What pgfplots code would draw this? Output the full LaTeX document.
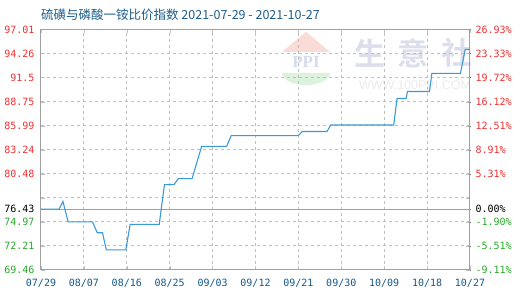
\documentclass[border=0pt]{standalone}
\usepackage{pgfplots}
\usepackage{pgfplotstable}
\pgfplotsset{compat=1.18}
\usepackage{fontspec}
\setmainfont{DejaVu Sans}
\newfontfamily\cjk{Noto Sans CJK SC}
\newfontfamily\cjkbold{Noto Sans CJK SC Bold}
\newfontfamily\mono{DejaVu Sans Mono}
\definecolor{linec}{RGB}{58,154,217}
\definecolor{upc}{RGB}{238,48,48}
\definecolor{downc}{RGB}{40,168,40}
\definecolor{titlec}{RGB}{28,92,140}
\definecolor{datec}{RGB}{20,88,140}
\definecolor{framec}{RGB}{160,160,160}
\definecolor{wmc}{RGB}{220,223,235}
\definecolor{wmurl}{RGB}{234,234,234}
\definecolor{logor}{RGB}{250,220,214}
\definecolor{logob}{RGB}{212,220,236}
\definecolor{logog}{RGB}{220,242,220}

% daily index values, x = days since 2021-07-29
\pgfplotstableread{
d v
0 76.43
3.8 76.43
4.6 77.32
5.7 74.97
10.8 74.97
11.8 73.73
12.9 73.73
13.7 71.77
17.8 71.77
18.7 74.68
24.8 74.68
25.9 79.24
27.9 79.24
28.8 79.93
31.7 79.93
33.7 83.63
38.95 83.63
39.9 84.86
54 84.86
54.8 85.32
60 85.32
60.8 86.07
74 86.07
74.7 89.11
76.6 89.11
76.9 89.91
81.5 89.91
82 91.98
88 91.98
89 94.74
90 94.74
}\ratio

\pgfplotsset{
  frame/.style={
    at={(41pt,30pt)}, anchor=south west,
    scale only axis, width=429pt, height=240.5pt,
    xmin=0, xmax=90, ymin=69.46, ymax=97.01,
    major tick length=0.1pt,
    yticklabel style={font=\mono\fontsize{10}{10}\selectfont},
  },
}

\begin{document}
\begin{tikzpicture}
\path[use as bounding box] (0pt,0pt) rectangle (520pt,300pt);

% title
\node[anchor=west, text=titlec, font=\cjk\fontsize{12.5}{12.5}\selectfont, inner sep=0] at (41pt,285pt) {硫磺与磷酸一铵比价指数 2021-07-29 - 2021-10-27};

% background watermark
\fill[logor] (306pt,268.3pt) -- (330pt,248pt) -- (282pt,248pt) -- cycle;
\node[text=logob, font=\fontspec{Liberation Serif}\bfseries\fontsize{17}{17}\selectfont, inner sep=0] at (306pt,238pt) {PPI};
\fill[logog] (282pt,227pt) arc[start angle=180, end angle=360, x radius=24pt, y radius=12pt] -- cycle;
\node[text=wmc, font=\cjkbold\fontsize{31}{31}\selectfont, inner sep=0] at (370pt,247pt) {生};
\node[text=wmc, font=\cjkbold\fontsize{31}{31}\selectfont, inner sep=0] at (413pt,247pt) {意};
\node[text=wmc, font=\cjkbold\fontsize{31}{31}\selectfont, inner sep=0] at (457pt,247pt) {社};
\node[text=wmurl, font=\fontspec{Liberation Sans}\fontsize{12.5}{12.5}\selectfont, inner sep=0] at (415pt,215pt) {WWW.100PPI.COM};

% grid, frame, left value labels and dates
\begin{axis}[
  at={(41pt,30pt)}, anchor=south west,
  scale only axis, width=429pt, height=240.5pt,
  xmin=0, xmax=90, ymin=69.46, ymax=97.01,
  xtick={0,9,...,90},
  xticklabels={07/29,08/07,08/16,08/25,09/03,09/12,09/21,09/30,10/09,10/18,10/27},
  xticklabel style={font=\mono\fontsize{10}{10}\selectfont, text=datec, yshift=-6pt},
  ytick={69.46,72.21,74.97,77.72,80.48,83.24,85.99,88.75,91.5,94.26,97.01},
  yticklabels={\textcolor{downc}{69.46},\textcolor{downc}{72.21},\textcolor{downc}{74.97},{},\textcolor{upc}{80.48},\textcolor{upc}{83.24},\textcolor{upc}{85.99},\textcolor{upc}{88.75},\textcolor{upc}{91.5},\textcolor{upc}{94.26},\textcolor{upc}{97.01}},
  yticklabel style={font=\mono\fontsize{10}{10}\selectfont, xshift=-3pt},
  xmajorgrids=true, ymajorgrids=true,
  x grid style={black!25, dashed, line width=1pt},
  y grid style={black!25, dashed, line width=1pt},
  major tick length=4pt,
  tick style={black!25},
  axis line style={draw=framec, line width=1pt},
]
\end{axis}

% base line at 76.43
\begin{axis}[
  frame,
  axis line style={draw=none},
  xtick=\empty,
  ytick={76.43}, yticklabels={76.43},
  yticklabel style={xshift=-3pt, text=black},
  ymajorgrids=true,
  y grid style={draw=framec, solid, line width=1pt},
]
\end{axis}

% right-hand percentage labels and the index line
\begin{axis}[
  frame,
  axis x line=none, axis y line*=right,
  axis line style={draw=none},
  ytick={69.46,72.21,74.97,76.43,80.48,83.24,85.99,88.75,91.5,94.26,97.01},
  yticklabels={\textcolor{downc}{-9.11\%},\textcolor{downc}{-5.51\%},\textcolor{downc}{-1.90\%},0.00\%,\textcolor{upc}{5.31\%},\textcolor{upc}{8.91\%},\textcolor{upc}{12.51\%},\textcolor{upc}{16.12\%},\textcolor{upc}{19.72\%},\textcolor{upc}{23.33\%},\textcolor{upc}{26.93\%}},
  yticklabel style={xshift=2pt},
]
\addplot[linec, line width=1.1pt, mark=none] table[x=d, y=v] {\ratio};
\end{axis}
\end{tikzpicture}
\end{document}
